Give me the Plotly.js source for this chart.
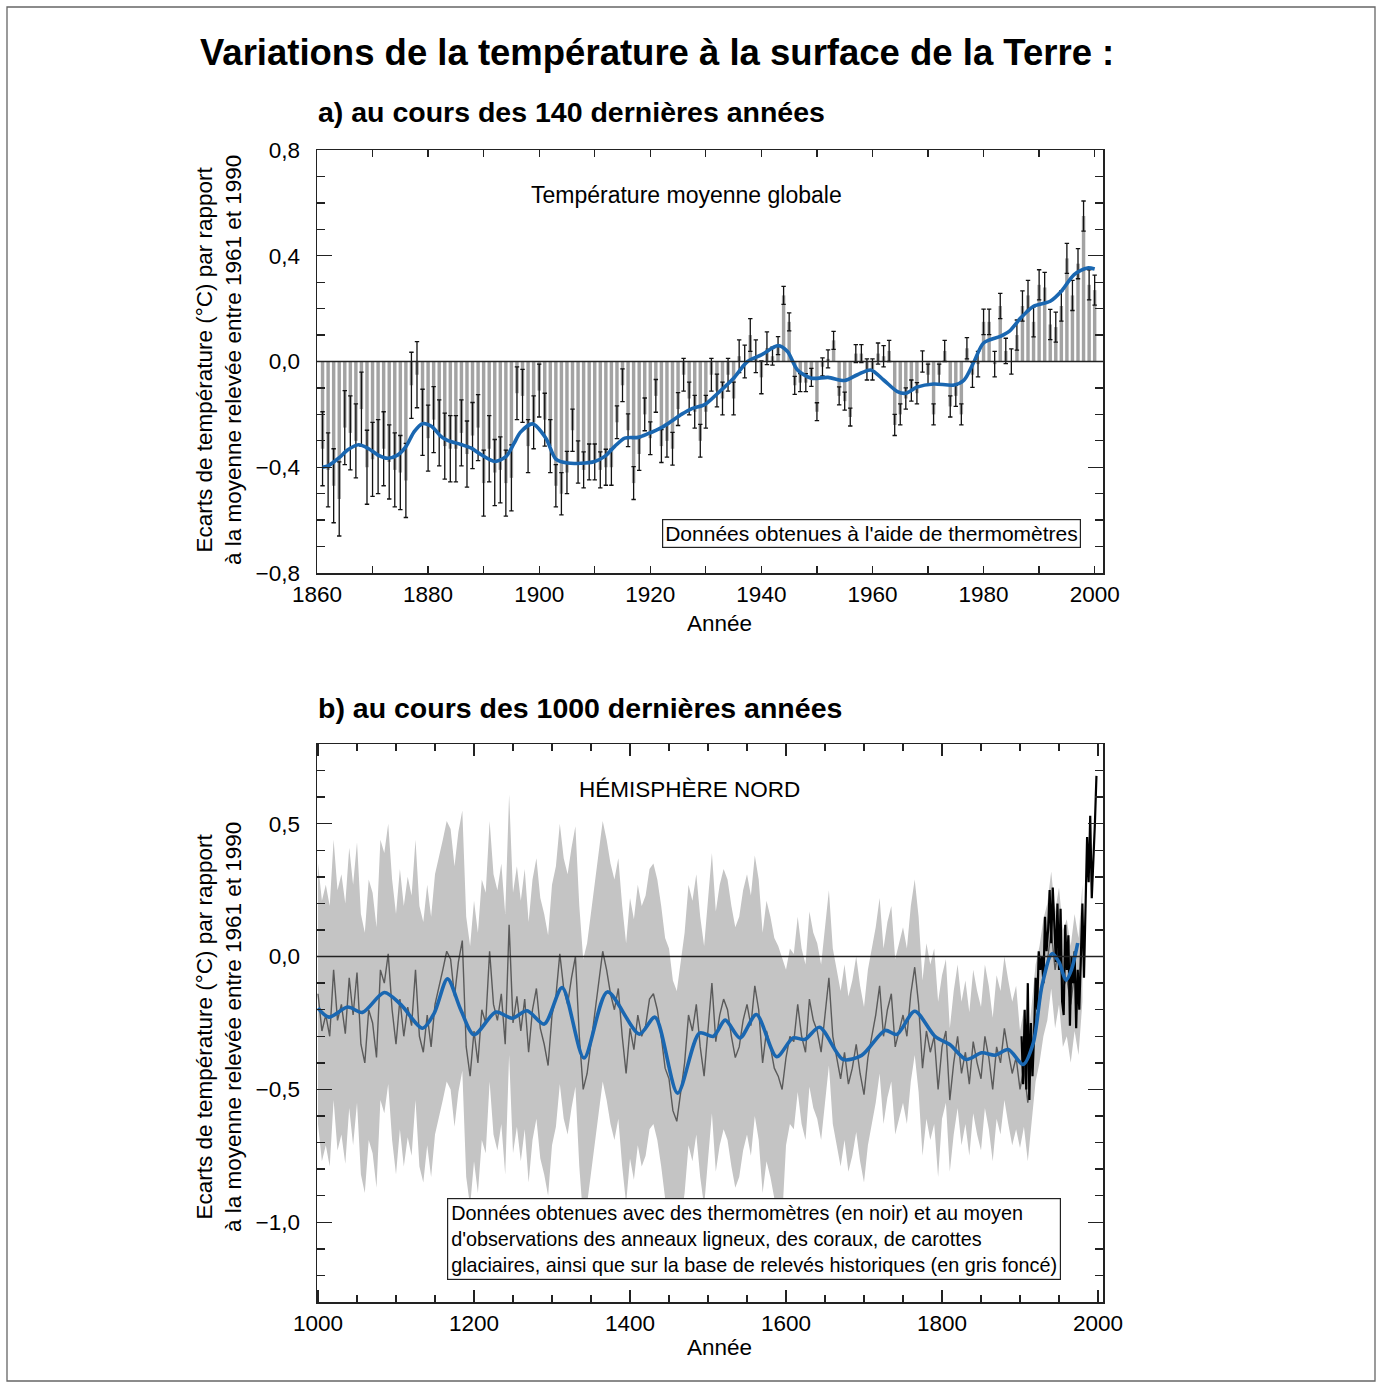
<!DOCTYPE html>
<html><head><meta charset="utf-8">
<script src="https://cdn.plot.ly/plotly-3.0.1.min.js"></script>
<style>html,body{margin:0;padding:0;background:#fff}#chart{width:1382px;height:1382px}</style>
</head><body><div id="chart"></div>
<script>
// ---------- (a) 140 years, annual global anomalies (°C vs 1961-1990) ----------
const annualStartYear = 1861;
const annualAnomaly = [
 -0.33,-0.41,-0.47,-0.52,-0.25,-0.27,-0.30,-0.18,-0.40,-0.37,
 -0.36,-0.33,-0.38,-0.41,-0.42,-0.45,-0.09,-0.05,-0.23,-0.29,
 -0.22,-0.27,-0.32,-0.33,-0.33,-0.27,-0.35,-0.28,-0.25,-0.46,
 -0.33,-0.42,-0.41,-0.46,-0.44,-0.12,-0.13,-0.32,-0.23,-0.11,
 -0.22,-0.32,-0.47,-0.50,-0.42,-0.26,-0.38,-0.41,-0.38,-0.38,
 -0.41,-0.40,-0.40,-0.23,-0.09,-0.26,-0.46,-0.35,-0.20,-0.29,
 -0.13,-0.32,-0.30,-0.33,-0.18,-0.05,-0.14,-0.19,-0.30,-0.19,
 -0.05,-0.11,-0.14,-0.05,-0.14, 0.02, 0.00, 0.10, 0.02,-0.06,
  0.05, 0.02, 0.06, 0.25, 0.15,-0.09,-0.08,-0.08,-0.06,-0.19,
 -0.02, 0.01, 0.08,-0.13,-0.15,-0.21, 0.03, 0.03,-0.03,-0.03,
  0.03, 0.02, 0.04,-0.24,-0.20,-0.14,-0.11,-0.12, 0.00,-0.05,
 -0.20,-0.05, 0.04,-0.17,-0.13,-0.20, 0.05,-0.05,-0.01, 0.15,
  0.15,-0.01, 0.21, 0.04, 0.00, 0.10, 0.21, 0.25, 0.15, 0.29,
  0.28, 0.14, 0.13, 0.21, 0.39, 0.25, 0.37, 0.55, 0.29, 0.27
];
// uncertainty half-widths by period start year
const errPeriodStart = [1861, 1877, 1896, 1903, 1908, 1914, 1942, 1959, 1978, 1986];
const errHalfWidth   = [0.14, 0.125, 0.10, 0.08, 0.068, 0.062, 0.034, 0.04, 0.048, 0.057];
// smoothed curve (a)
const smoothAYears = [1861,1862,1863,1864,1865.5,1867.5,1869.3,1871,1872.7,1874.5,1876,1877.5,1879,1880.6,1882.3,1883.5,1885.9,1887.7,1889.5,1892,1894,1895.5,1896.6,1898.8,1901.2,1903,1905.1,1907.5,1910,1911.8,1913.6,1915.4,1917.8,1919.6,1922,1923.8,1925.6,1927.5,1929.8,1932.2,1935,1937.5,1940,1943,1944.7,1946.5,1949,1952,1955,1957.3,1959.7,1962,1964.5,1966,1968,1971,1974.7,1976.5,1978.3,1980,1983,1984.6,1986.7,1989,1992,1994,1996.3,1998.7,2000];
const smoothAVals  = [-0.40,-0.395,-0.38,-0.364,-0.335,-0.315,-0.33,-0.354,-0.366,-0.354,-0.322,-0.265,-0.235,-0.245,-0.283,-0.298,-0.314,-0.327,-0.352,-0.378,-0.36,-0.309,-0.268,-0.236,-0.29,-0.369,-0.384,-0.385,-0.378,-0.359,-0.321,-0.29,-0.287,-0.273,-0.25,-0.226,-0.20,-0.178,-0.163,-0.119,-0.063,0.0,0.025,0.06,0.038,-0.032,-0.063,-0.06,-0.072,-0.05,-0.032,-0.07,-0.114,-0.12,-0.097,-0.085,-0.089,-0.07,0.0,0.07,0.095,0.114,0.165,0.209,0.228,0.266,0.329,0.354,0.35];

// ---------- (b) 1000 years, Northern Hemisphere ----------
const reconStartYear = 1000, reconStep = 5;
const reconAnomaly = [
 -0.14,-0.28,-0.22,-0.30,-0.05,-0.24,-0.18,-0.29,-0.08,-0.22,
 -0.06,-0.33,-0.40,-0.20,-0.25,-0.38,-0.05,-0.10, 0.01,-0.20,
 -0.33,-0.16,-0.30,-0.19,-0.26,-0.05,-0.30,-0.36,-0.22,-0.34,
 -0.18,-0.12,-0.05, 0.02,-0.01,-0.15,-0.02, 0.06,-0.34,-0.45,
 -0.28,-0.40,-0.20,-0.25, 0.02,-0.18,-0.24,-0.14,-0.33, 0.12,
 -0.25,-0.15,-0.28,-0.16,-0.36,-0.20,-0.12,-0.27,-0.33,-0.41,
 -0.22,-0.15, 0.01,-0.12,-0.18,-0.08, 0.00,-0.30,-0.50,-0.44,
 -0.32,-0.20,-0.10, 0.02,-0.05,-0.14,-0.20,-0.12,-0.30,-0.44,
 -0.27,-0.35,-0.22,-0.30,-0.26,-0.16,-0.14,-0.20,-0.30,-0.42,
 -0.46,-0.58,-0.62,-0.50,-0.40,-0.22,-0.28,-0.18,-0.34,-0.45,
 -0.26,-0.10,-0.32,-0.22,-0.16,-0.20,-0.30,-0.38,-0.34,-0.24,
 -0.18,-0.26,-0.11,-0.20,-0.40,-0.28,-0.34,-0.42,-0.45,-0.50,
 -0.38,-0.30,-0.32,-0.18,-0.30,-0.36,-0.16,-0.24,-0.28,-0.36,
 -0.22,-0.08,-0.30,-0.38,-0.46,-0.36,-0.48,-0.42,-0.33,-0.44,
 -0.52,-0.38,-0.30,-0.22,-0.11,-0.30,-0.20,-0.14,-0.34,-0.28,
 -0.22,-0.30,-0.14,-0.04,-0.18,-0.42,-0.28,-0.36,-0.30,-0.50,
 -0.34,-0.28,-0.54,-0.40,-0.30,-0.44,-0.36,-0.48,-0.32,-0.40,
 -0.46,-0.30,-0.38,-0.50,-0.34,-0.40,-0.27,-0.36,-0.44,-0.38,
 -0.50,-0.42,-0.55,-0.40,-0.25,-0.18,-0.08,-0.02, 0.10,-0.05,
  0.04,-0.12,-0.08,-0.18,-0.06,-0.15, 0.05
];
// uncertainty half-width of the reconstruction by period
const bandPeriodStart = [1000, 1600, 1800, 1900];
const bandHalfWidth   = [0.49, 0.33, 0.27, 0.22];
// instrumental record (black)
const instrStartYear = 1902, instrStep = 2;
const instrAnomaly = [
 -0.30,-0.48,-0.20,-0.50,-0.10,-0.54,-0.25,-0.45,-0.30,-0.08,
 -0.20, 0.02,-0.05, 0.00,-0.10, 0.15, 0.02, 0.10, 0.25, 0.05,
  0.26, 0.10,-0.02, 0.20,-0.05, 0.18,-0.17,-0.22, 0.12,-0.05,
  0.08,-0.26, 0.00,-0.10, 0.02,-0.27,-0.05,-0.20, 0.05, 0.20,
 -0.08, 0.20, 0.45, 0.28, 0.53, 0.22, 0.35, 0.50, 0.68
];
// smoothed curve (b)
const smoothBYears = [1000,1014,1038,1057,1085,1106,1134,1149,1166,1183,1200,1228,1249,1268,1290,1313,1341,1371,1412,1432,1461,1489,1507,1522,1541,1562,1588,1609,1624,1643,1673,1697,1727,1742,1765,1791,1810,1831,1851,1868,1885,1904,1917,1928,1941,1950,1959,1966,1974];
const smoothBVals  = [-0.194,-0.228,-0.19,-0.21,-0.135,-0.18,-0.27,-0.213,-0.084,-0.20,-0.294,-0.209,-0.232,-0.204,-0.254,-0.117,-0.382,-0.133,-0.292,-0.228,-0.514,-0.288,-0.30,-0.239,-0.306,-0.218,-0.377,-0.306,-0.312,-0.266,-0.387,-0.372,-0.278,-0.293,-0.206,-0.30,-0.331,-0.387,-0.362,-0.371,-0.35,-0.406,-0.325,-0.112,0.011,-0.021,-0.089,-0.049,0.051];

// ---------- build arrays for the library ----------
const annualYears = annualAnomaly.map((_, i) => annualStartYear + i);
const errArray = annualYears.map(y => {
  let h = errHalfWidth[0];
  errPeriodStart.forEach((s, k) => { if (y >= s) h = errHalfWidth[k]; });
  return h;
});
const reconYears = reconAnomaly.map((_, i) => reconStartYear + i * reconStep);
const halfFor = y => { let h = bandHalfWidth[0]; bandPeriodStart.forEach((s,k)=>{ if (y >= s) h = bandHalfWidth[k]; }); return h; };
const bandUpper = reconAnomaly.map((v, i) => v + halfFor(reconYears[i]));
const bandLower = reconAnomaly.map((v, i) => v - halfFor(reconYears[i]));
const instrYears = instrAnomaly.map((_, i) => instrStartYear + i * instrStep);

const FONT = 'Liberation Sans, Arial, Helvetica, sans-serif';
const BLUE = '#1a67b1';

const traces = [
  { type:'bar', x:annualYears, y:annualAnomaly, xaxis:'x', yaxis:'y',
    marker:{color:'#a3a3a3', line:{width:0}}, width:0.62,
    error_y:{type:'data', array:errArray, visible:true, color:'#111', thickness:1.3, width:2.2},
    hoverinfo:'skip', showlegend:false },
  { type:'scatter', mode:'lines', x:smoothAYears, y:smoothAVals, xaxis:'x', yaxis:'y',
    line:{color:BLUE, width:3.6, shape:'spline', smoothing:0.8}, hoverinfo:'skip', showlegend:false },
  { type:'scatter', mode:'lines', x:reconYears, y:bandLower, xaxis:'x2', yaxis:'y2',
    line:{width:0, color:'rgba(0,0,0,0)'}, hoverinfo:'skip', showlegend:false },
  { type:'scatter', mode:'lines', x:reconYears, y:bandUpper, xaxis:'x2', yaxis:'y2',
    fill:'tonexty', fillcolor:'#c4c4c4', line:{width:0, color:'rgba(0,0,0,0)'}, hoverinfo:'skip', showlegend:false },
  { type:'scatter', mode:'lines', x:reconYears, y:reconAnomaly, xaxis:'x2', yaxis:'y2',
    line:{color:'#5a5a5a', width:1.4}, hoverinfo:'skip', showlegend:false },
  { type:'scatter', mode:'lines', x:instrYears, y:instrAnomaly, xaxis:'x2', yaxis:'y2',
    line:{color:'#000', width:2.2}, hoverinfo:'skip', showlegend:false },
  { type:'scatter', mode:'lines', x:smoothBYears, y:smoothBVals, xaxis:'x2', yaxis:'y2',
    line:{color:BLUE, width:3.6, shape:'spline', smoothing:0.8}, hoverinfo:'skip', showlegend:false }
];

const axCommon = {
  showline:true, linecolor:'#222', linewidth:1.5, mirror:'ticks', ticks:'inside',
  tickcolor:'#222', tickwidth:1.3, showgrid:false, zeroline:false,
  tickfont:{family:FONT, size:22.5, color:'#000'}
};

// plot area in px: x 317..1103, y 150..1302 (margins)
const px2x = p => (p - 317) / 786;
const py2y = p => 1 - (p - 150) / 1152;

const layout = {
  width:1382, height:1382,
  margin:{l:317, r:279, t:150, b:80},
  paper_bgcolor:'#fff', plot_bgcolor:'#fff',
  separators:', ',
  font:{family:FONT, color:'#000'},
  bargap:0.3,
  xaxis:Object.assign({}, axCommon, {domain:[0,1], anchor:'y', range:[1860,2001.5],
    tick0:1860, dtick:20, ticklen:7, minor:{dtick:10, ticklen:7, ticks:'inside', tickcolor:'#222', tickwidth:1.3}}),
  yaxis:Object.assign({}, axCommon, {domain:[py2y(573), 1], anchor:'x', range:[-0.8,0.8], ticklabelstandoff:11,
    tick0:0, dtick:0.4, tickformat:'.1f', ticklen:15, minor:{dtick:0.1, ticklen:8, ticks:'inside', tickcolor:'#222', tickwidth:1.3}}),
  xaxis2:Object.assign({}, axCommon, {domain:[0,1], anchor:'y2', range:[998.7,2006.4],
    tick0:1000, dtick:200, ticklen:12, minor:{dtick:50, ticklen:7, ticks:'inside', tickcolor:'#222', tickwidth:1.3}}),
  yaxis2:Object.assign({}, axCommon, {domain:[0, py2y(744)], anchor:'x2', range:[-1.3,0.8], ticklabelstandoff:11,
    tick0:0, dtick:0.5, tickformat:'.1f', ticklen:15, minor:{dtick:0.1, ticklen:8, ticks:'inside', tickcolor:'#222', tickwidth:1.3}}),
  shapes:[
    {type:'line', xref:'x domain', x0:0, x1:1, yref:'y', y0:0, y1:0, line:{color:'#222', width:1.4}, layer:'above'},
    {type:'line', xref:'x2 domain', x0:0, x1:1, yref:'y2', y0:0, y1:0, line:{color:'#222', width:1.4}, layer:'above'},
    {type:'rect', xref:'paper', yref:'paper', x0:px2x(7), x1:px2x(1375), y0:py2y(1381), y1:py2y(7),
     line:{color:'#666', width:1.3}, fillcolor:'rgba(0,0,0,0)', layer:'above'}
  ],
  annotations:[
    {xref:'paper', yref:'paper', x:px2x(657), y:py2y(52), xanchor:'center', yanchor:'middle', showarrow:false,
     text:'<b>Variations de la température à la surface de la Terre :</b>', font:{family:FONT, size:36.5, color:'#000'}},
    {xref:'paper', yref:'paper', x:px2x(316), y:py2y(112), xanchor:'left', yanchor:'middle', showarrow:false,
     text:'<b>a) au cours des 140 dernières années</b>', font:{family:FONT, size:28.5, color:'#000'}},
    {xref:'paper', yref:'paper', x:px2x(316), y:py2y(708), xanchor:'left', yanchor:'middle', showarrow:false,
     text:'<b>b) au cours des 1000 dernières années</b>', font:{family:FONT, size:28.5, color:'#000'}},
    {xref:'paper', yref:'paper', x:px2x(219), y:py2y(360), xanchor:'center', yanchor:'middle', showarrow:false, textangle:-90,
     text:'Ecarts de température (°C) par rapport<br>à la moyenne relevée entre 1961 et 1990', font:{family:FONT, size:22.5, color:'#000'}},
    {xref:'paper', yref:'paper', x:px2x(219), y:py2y(1027), xanchor:'center', yanchor:'middle', showarrow:false, textangle:-90,
     text:'Ecarts de température (°C) par rapport<br>à la moyenne relevée entre 1961 et 1990', font:{family:FONT, size:22.5, color:'#000'}},
    {xref:'paper', yref:'paper', x:px2x(719), y:py2y(624), xanchor:'center', yanchor:'middle', showarrow:false,
     text:'Année', font:{family:FONT, size:22.5, color:'#000'}},
    {xref:'paper', yref:'paper', x:px2x(719), y:py2y(1347), xanchor:'center', yanchor:'middle', showarrow:false,
     text:'Année', font:{family:FONT, size:22.5, color:'#000'}},
    {xref:'paper', yref:'paper', x:px2x(686), y:py2y(195), xanchor:'center', yanchor:'middle', showarrow:false,
     text:'Température moyenne globale', font:{family:FONT, size:23, color:'#000'}},
    {xref:'paper', yref:'paper', x:px2x(871.5), y:py2y(534), xanchor:'center', yanchor:'middle', showarrow:false,
     text:"Données obtenues à l'aide de thermomètres", font:{family:FONT, size:21, color:'#000'},
     bgcolor:'#fff', bordercolor:'#222', borderwidth:1.2, borderpad:2},
    {xref:'paper', yref:'paper', x:px2x(689), y:py2y(789), xanchor:'center', yanchor:'middle', showarrow:false,
     text:'HÉMISPHÈRE NORD', font:{family:FONT, size:22.5, color:'#000'}},
    {xref:'paper', yref:'paper', x:px2x(753.5), y:py2y(1238.5), xanchor:'center', yanchor:'middle', showarrow:false, align:'left',
     text:"Données obtenues avec des thermomètres (en noir) et au moyen<br>d'observations des anneaux ligneux, des coraux, de carottes<br>glaciaires, ainsi que sur la base de relevés historiques (en gris foncé)",
     font:{family:FONT, size:19.8, color:'#000'}, bgcolor:'#fff', bordercolor:'#222', borderwidth:1.2, borderpad:3}
  ]
};

Plotly.newPlot('chart', traces, layout, {staticPlot:true, displayModeBar:false});
</script></body></html>
